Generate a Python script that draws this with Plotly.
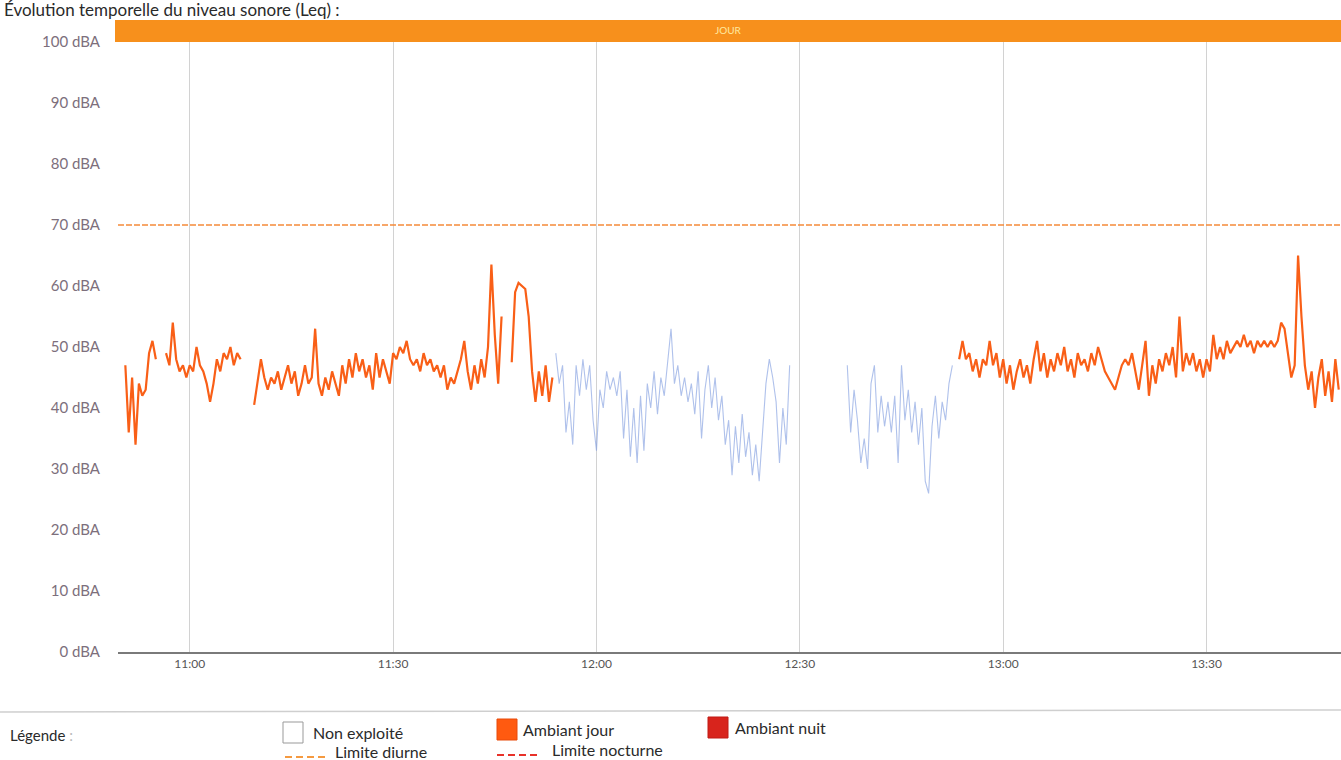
import pandas as pd
import plotly.graph_objects as go

DAY = "2024-01-01 "
STEP = "30s"

# ---- data (dBA, 30-second samples) ----
JOUR_1_START = "10:50:30"
JOUR_1 = [47, 36, 45, 34, 44, 42, 43, 49, 51, 48]

JOUR_2_START = "10:56:30"
JOUR_2 = [49, 47, 54, 48, 46, 47, 45, 47, 46, 50, 47, 46, 44, 41, 44, 48,
          46, 49, 48, 50, 47, 49, 48]

JOUR_3_START = "11:09:30"
JOUR_3 = [40.5, 44, 48, 45, 43, 45, 44, 46, 43, 45, 47, 44, 46, 42, 44, 47,
          44, 45, 53, 44, 42, 45, 43, 46, 44, 42, 47, 44, 48, 45, 49, 46,
          48, 45, 47, 43, 49, 45, 48, 46, 44, 49, 48, 50, 49, 51, 48, 47,
          48, 46, 49, 47, 48, 46, 47, 45, 47, 43, 45, 44, 46, 48, 51, 46,
          43, 47, 44, 48, 45, 50, 63.5, 52, 44, 55]

JOUR_4_START = "11:47:30"
JOUR_4 = [47.5, 59, 60.5, 60, 59.5, 55, 46, 41, 46, 42, 47, 41, 45]

NON_EXPL_1_START = "11:54:00"
NON_EXPL_1 = [49, 44, 47, 36, 41, 34, 47, 42, 48, 43, 47, 38, 33, 43, 40, 46,
              43, 45, 42, 46, 35, 43, 32, 40, 31, 42, 33, 44, 40, 46, 39, 45,
              42, 47, 53, 44, 47, 42, 45, 41, 44, 39, 46, 35, 43, 47, 40, 45,
              38, 42, 34, 38, 29, 37, 31, 39, 32, 36, 29, 34, 28, 36, 44, 48,
              45, 41, 31, 40, 34, 47]

NON_EXPL_2_START = "12:37:00"
NON_EXPL_2 = [47, 36, 43, 38, 31, 35, 30, 44, 47, 36, 42, 37, 41, 36, 42, 31,
              47, 38, 43, 36, 41, 34, 40, 28, 26, 37, 42, 35, 41, 38, 44, 47]

JOUR_5_START = "12:53:30"
JOUR_5 = [48, 51, 48, 49, 46, 48, 45, 48, 47, 51, 47, 49, 45, 48, 44, 47,
          43, 46, 48, 45, 47, 44, 48, 51, 46, 49, 45, 48, 46, 49, 47, 50,
          46, 48, 45, 49, 47, 48, 46, 49, 47, 50, 48, 46, 45, 44, 43, 45,
          47, 48, 47, 49, 46, 43, 47, 51, 42, 47, 44, 48, 46, 49, 47, 50,
          45, 55, 46, 49, 47, 49, 46, 48, 45, 48, 46, 52, 48, 50, 48, 51,
          49, 50, 51, 50, 52, 50, 51, 49, 51, 50, 51, 50, 51, 50, 51, 54,
          53, 49, 45, 47, 65, 55, 47, 43, 46, 40, 45, 48, 42, 46, 41, 48, 43]

LIMITE_DIURNE = 70
Y_TICKS = [0, 10, 20, 30, 40, 50, 60, 70, 80, 90, 100]
X_TICK_TIMES = ["11:00", "11:30", "12:00", "12:30", "13:00", "13:30"]
X_RANGE = ["10:49:25", "13:49:50"]

SEGMENTS = [
    (JOUR_1_START, JOUR_1, "jour"),
    (JOUR_2_START, JOUR_2, "jour"),
    (JOUR_3_START, JOUR_3, "jour"),
    (JOUR_4_START, JOUR_4, "jour"),
    (NON_EXPL_1_START, NON_EXPL_1, "non"),
    (NON_EXPL_2_START, NON_EXPL_2, "non"),
    (JOUR_5_START, JOUR_5, "jour"),
]

ORANGE = "#F95F17"
BLUE = "rgba(122,152,222,0.6)"
BAND = "#F7901C"
FONT = "Lato"

fig = go.Figure()
for start, vals, kind in SEGMENTS:
    t = pd.date_range(DAY + start, periods=len(vals), freq=STEP)
    fig.add_trace(go.Scatter(
        x=t, y=vals, mode="lines", showlegend=False, hoverinfo="skip",
        line=dict(color=ORANGE if kind == "jour" else BLUE,
                  width=2.2 if kind == "jour" else 1.1)))

# limite diurne
fig.add_shape(type="line", xref="paper", x0=0, x1=1, y0=LIMITE_DIURNE,
              y1=LIMITE_DIURNE, line=dict(color="#F58A3A", width=1.4, dash="6px,2px"))

L, R, T, B = 118, 0, 42, 108
W, H = 1341, 760
PW, PH = W - L - R, H - T - B


def px(x):
    return (x - L) / PW


def py(y):
    return (H - B - y) / PH


# top "JOUR" band
fig.add_shape(type="rect", xref="paper", yref="paper", x0=px(115), x1=1,
              y0=1, y1=py(20), fillcolor=BAND, line=dict(width=0), layer="above")
fig.add_annotation(xref="paper", yref="paper", x=px(728), y=py(30), text="JOUR",
                   xanchor="center", yanchor="middle", showarrow=False,
                   font=dict(family=FONT, size=10, color="#FFE9A0"))

# title (at the very top, as in the scan)
fig.add_annotation(xref="paper", yref="paper", x=px(2), y=py(-3), xanchor="left",
                   yanchor="top", showarrow=False,
                   text="Évolution temporelle du niveau sonore (Leq) :",
                   font=dict(family=FONT, size=17, color="#2a2a2a"))

# legend block
fig.add_shape(type="line", xref="paper", yref="paper", x0=px(0), x1=1,
              y0=py(712), y1=py(710), line=dict(color="#cfcfcf", width=1.5))
fig.add_annotation(xref="paper", yref="paper", x=px(8), y=py(735), xanchor="left",
                   yanchor="middle", showarrow=False,
                   text="Légende <span style='color:#bbb'>:</span>",
                   font=dict(family=FONT, size=15, color="#2a2a2a"))

boxes = [
    (283, 722, "white", "#999", "Non exploité", 311, 732),
    (497, 719, "#FF5A10", "#E84A0A", "Ambiant jour", 521, 729),
    (708, 717, "#D8241C", "#C01A14", "Ambiant nuit", 733, 727),
]
for bx, by, fc, lc, label, tx, ty in boxes:
    fig.add_shape(type="rect", xref="paper", yref="paper", x0=px(bx), x1=px(bx + 20),
                  y0=py(by + 21), y1=py(by), fillcolor=fc, line=dict(color=lc, width=1))
    fig.add_annotation(xref="paper", yref="paper", x=px(tx), y=py(ty), xanchor="left",
                       yanchor="middle", showarrow=False, text=label,
                       font=dict(family=FONT, size=16, color="#2a2a2a"))

dashes = [
    (285, 327, 757, "#F59A40", "Limite diurne", 333, 751),
    (497, 540, 755, "#E8322A", "Limite nocturne", 550, 749),
]
for x0, x1, yy, col, label, tx, ty in dashes:
    fig.add_shape(type="line", xref="paper", yref="paper", x0=px(x0), x1=px(x1),
                  y0=py(yy), y1=py(yy), line=dict(color=col, width=1.8, dash="7px,4px"))
    fig.add_annotation(xref="paper", yref="paper", x=px(tx), y=py(ty), xanchor="left",
                       yanchor="middle", showarrow=False, text=label,
                       font=dict(family=FONT, size=16, color="#2a2a2a"))

fig.update_layout(
    width=W, height=H,
    margin=dict(l=L, r=R, t=T, b=B, pad=0, autoexpand=False),
    paper_bgcolor="white", plot_bgcolor="white",
    font=dict(family=FONT),
)
fig.update_xaxes(
    type="date", range=[DAY + X_RANGE[0], DAY + X_RANGE[1]],
    tickvals=[DAY + s for s in X_TICK_TIMES], ticktext=X_TICK_TIMES,
    showgrid=True, gridcolor="#d2d2d2", gridwidth=1,
    showline=True, linecolor="#7a7a7a", linewidth=2,
    ticks="", automargin=False,
    tickfont=dict(family=FONT, size=12, color="#555"), zeroline=False,
)
fig.update_yaxes(
    range=[0, 100], tickvals=Y_TICKS, ticktext=[f"{v} dBA" for v in Y_TICKS],
    showgrid=False, zeroline=False, showline=False, automargin=False,
    ticks="outside", ticklen=14, tickcolor="rgba(0,0,0,0)",
    tickfont=dict(family=FONT, size=15, color="#7d6f7c"),
)

fig.write_html(
    "out.html",
    config={"displayModeBar": False},
    post_script="document.body.style.margin='0';document.body.style.overflow='hidden';",
)
